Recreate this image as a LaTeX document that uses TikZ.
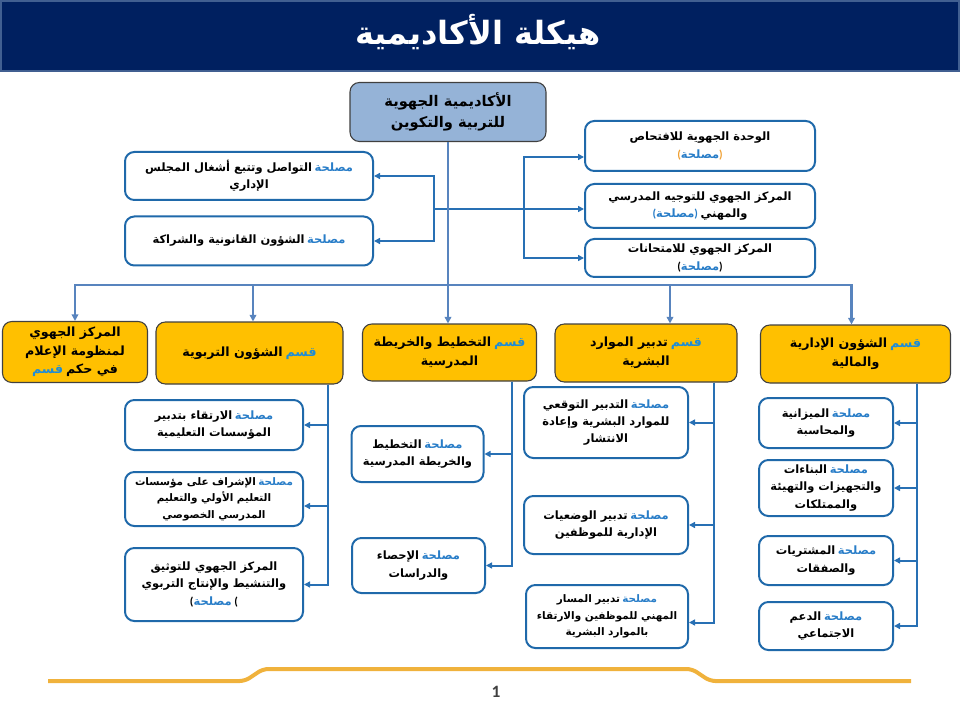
\documentclass[tikz,border=0pt]{standalone}
\usepackage{fontspec}
\setmainfont{Carlito}
\newfontfamily\arabicfont[Script=Arabic]{DejaVu Sans}
\TeXXeTstate=1
\usetikzlibrary{positioning, calc, arrows.meta}

\definecolor{navy}{RGB}{0,32,96}
\definecolor{navyedge}{RGB}{65,95,145}
\definecolor{acadfill}{RGB}{149,179,215}
\definecolor{deptgold}{RGB}{255,192,0}
\definecolor{boxblue}{RGB}{31,105,170}
\definecolor{linkblue}{RGB}{40,112,180}
\definecolor{busblue}{RGB}{88,132,190}
\definecolor{mslblue}{RGB}{40,125,200}
\definecolor{qsmblue}{RGB}{30,140,215}
\definecolor{parorange}{RGB}{240,160,50}
\definecolor{footgold}{RGB}{240,178,60}
\definecolor{numgray}{RGB}{64,64,64}

\newcommand\ar[1]{{\arabicfont\bfseries\beginR #1\endR}}
\newcommand\msl{{\arabicfont\bfseries\textcolor{mslblue}{مصلحة}}}
\newcommand\qsm{{\arabicfont\bfseries\textcolor{qsmblue}{قسم}}}
\newcommand\mslline[1]{\ar{#1}\ \msl}
\newcommand\qsmline[1]{\ar{#1}\ \qsm}

\begin{document}
\begin{tikzpicture}[x=0.75pt,y=-0.75pt,
    sz/.style 2 args={minimum width=#1*0.75pt, minimum height=#2*0.75pt},
    srv/.style={draw=boxblue, line width=1.5pt, fill=white, rounded corners=7pt,
        align=center, inner sep=1pt, font=\fontsize{8.6}{13}\selectfont},
    small/.style={font=\fontsize{7.8}{12.5}\selectfont},
    dept/.style={draw=black!75, line width=0.8pt, fill=deptgold, rounded corners=7pt,
        align=center, inner sep=1pt, font=\fontsize{9.5}{14}\selectfont},
    link/.style={draw=linkblue, line width=1.5pt},
    linkarr/.style={link, -{Triangle[length=4.5pt,width=4.5pt]}},
    bus/.style={draw=busblue, line width=2.2pt},
    busarr/.style={bus, -{Triangle[length=5pt,width=5pt]}}]
    \useasboundingbox (0,0) rectangle (960,720);

    % タイトル帯
    \fill[navy] (0,0) rectangle (960,72);
    \draw[navyedge, line width=2pt] (1,1) rectangle (959,71);
    \node[text=white, font=\fontsize{24}{28}\selectfont] (title) at (478,32) {\ar{هيكلة الأكاديمية}};

    % アカデミー
    \node[draw=black!75, line width=0.8pt, fill=acadfill, rounded corners=7pt, align=center,
        sz={196}{59}, font=\fontsize{11}{16}\selectfont] (acad) at (448,112)
        {\ar{الأكاديمية الجهوية}\\\ar{للتربية والتكوين}};

    % 左右の部署
    \node[srv, sz={248}{48}] (comm) at (249,176) {\mslline{التواصل وتتبع أشغال المجلس}\\\ar{الإداري}};
    \node[srv, sz={248}{49}] (legal) at (249,241) {\mslline{الشؤون القانونية والشراكة}};
    \node[srv, sz={230}{50}] (audit) at (700,146)
        {\ar{الوحدة الجهوية للافتحاص}\\\textcolor{parorange}{\textbf{(}}\msl\textcolor{parorange}{\textbf{)}}};
    \node[srv, sz={230}{44}] (orient) at (700,206)
        {\ar{المركز الجهوي للتوجيه المدرسي}\\\textcolor{mslblue}{\textbf{(}}\msl\textcolor{mslblue}{\textbf{)}}\ \ar{والمهني}};
    \node[srv, sz={230}{38}] (exam) at (700,258)
        {\ar{المركز الجهوي للامتحانات}\\\textbf{(}\msl\textbf{)}};

    % 分岐
    \coordinate (lv) at (434,209);
    \coordinate (rv) at (524,209);
    \draw[linkarr] (lv) -- (orient.west |- lv);
    \draw[linkarr] (lv) |- (comm.east);
    \draw[linkarr] (lv) |- (legal.east);
    \draw[linkarr] (rv) |- ($(audit.west)+(0,11)$);
    \draw[linkarr] (rv) |- (exam.west);

    % 部門
    \node[dept, sz={145}{61}] (dinfo) at (75,352) {\ar{المركز الجهوي}\\\ar{لمنظومة الإعلام}\\\qsm\ \ar{في حكم}};
    \node[dept, sz={187}{62}] (dedu) at (249.5,353) {\qsmline{الشؤون التربوية}};
    \node[dept, sz={174}{57}] (dplan) at (449.5,352.5) {\qsmline{التخطيط والخريطة}\\\ar{المدرسية}};
    \node[dept, sz={182}{58}] (dhr) at (646,353) {\qsmline{تدبير الموارد}\\\ar{البشرية}};
    \node[dept, sz={190}{58}] (dadm) at (855.5,354) {\qsmline{الشؤون الإدارية}\\\ar{والمالية}};

    % 幹線
    \coordinate (busc) at (acad.south |- 0,285);
    \coordinate (b2) at (253,285);
    \coordinate (b4) at (670,285);
    \draw[bus] (acad.south) -- (busc);
    \draw[busarr] (busc) -| (dinfo.north);
    \draw[busarr] (busc) -| ($(dadm.north)+(-4,0)$);
    \draw[busarr] (b2) -- (b2 |- dedu.north);
    \draw[busarr] (busc) -- (busc |- dplan.north);
    \draw[busarr] (b4) -- (b4 |- dhr.north);

    % 教育部門のサービス
    \node[srv, sz={178}{50}] (s21) at (214,425) {\mslline{الارتقاء بتدبير}\\\ar{المؤسسات التعليمية}};
    \node[srv, small, sz={178}{54}] (s22) at (214,499) {\mslline{الإشراف على مؤسسات}\\\ar{التعليم الأولي والتعليم}\\\ar{المدرسي الخصوصي}};
    \node[srv, sz={178}{73}] (s23) at (214,584.5) {\ar{المركز الجهوي للتوثيق}\\\ar{والتنشيط والإنتاج التربوي}\\\textbf{(}\msl\ \textbf{(}};
    \coordinate (v2) at (328,0);
    \draw[linkarr] (v2 |- dedu.south) |- (s21.east);
    \draw[linkarr] (v2 |- dedu.south) |- ($(s22.east)+(0,7)$);
    \draw[linkarr] (v2 |- dedu.south) |- (s23.east);

    % 計画部門のサービス
    \node[srv, sz={132}{56}] (s31) at (417.5,454) {\mslline{التخطيط}\\\ar{والخريطة المدرسية}};
    \node[srv, sz={133}{55}] (s32) at (418.5,565.5) {\mslline{الإحصاء}\\\ar{والدراسات}};
    \coordinate (v3) at (512,0);
    \draw[linkarr] (v3 |- dplan.south) |- (s31.east);
    \draw[linkarr] (v3 |- dplan.south) |- (s32.east);

    % 人事部門のサービス
    \node[srv, sz={164}{71}] (s41) at (606,422.5) {\mslline{التدبير التوقعي}\\\ar{للموارد البشرية وإعادة}\\\ar{الانتشار}};
    \node[srv, sz={164}{58}] (s42) at (606,525) {\mslline{تدبير الوضعيات}\\\ar{الإدارية للموظفين}};
    \node[srv, small, sz={162}{63}] (s43) at (607,616.5) {\mslline{تدبير المسار}\\\ar{المهني للموظفين والارتقاء}\\\ar{بالموارد البشرية}};
    \coordinate (v4) at (714,0);
    \draw[linkarr] (v4 |- dhr.south) |- (s41.east);
    \draw[linkarr] (v4 |- dhr.south) |- (s42.east);
    \draw[linkarr] (v4 |- dhr.south) |- ($(s43.east)+(0,6)$);

    % 財務部門のサービス
    \node[srv, sz={134}{50}] (s51) at (826,423) {\mslline{الميزانية}\\\ar{والمحاسبة}};
    \node[srv, sz={134}{56}] (s52) at (826,488) {\mslline{البناءات}\\\ar{والتجهيزات والتهيئة}\\\ar{والممتلكات}};
    \node[srv, sz={134}{49}] (s53) at (826,560.5) {\mslline{المشتريات}\\\ar{والصفقات}};
    \node[srv, sz={134}{48}] (s54) at (826,626) {\mslline{الدعم}\\\ar{الاجتماعي}};
    \coordinate (v5) at (917,0);
    \draw[linkarr] (v5 |- dadm.south) |- (s51.east);
    \draw[linkarr] (v5 |- dadm.south) |- (s52.east);
    \draw[linkarr] (v5 |- dadm.south) |- (s53.east);
    \draw[linkarr] (v5 |- dadm.south) |- (s54.east);

    % フッター
    \draw[footgold, line width=3pt, rounded corners=4pt] (48,681) -- (245,681) -- (263,669)
        -- (692,669) -- (710,681) -- (911,681);
    \node[text=numgray, font=\bfseries\fontsize{13}{15}\selectfont] (pnum) at (496,692) {1};
\end{tikzpicture}
\end{document}
